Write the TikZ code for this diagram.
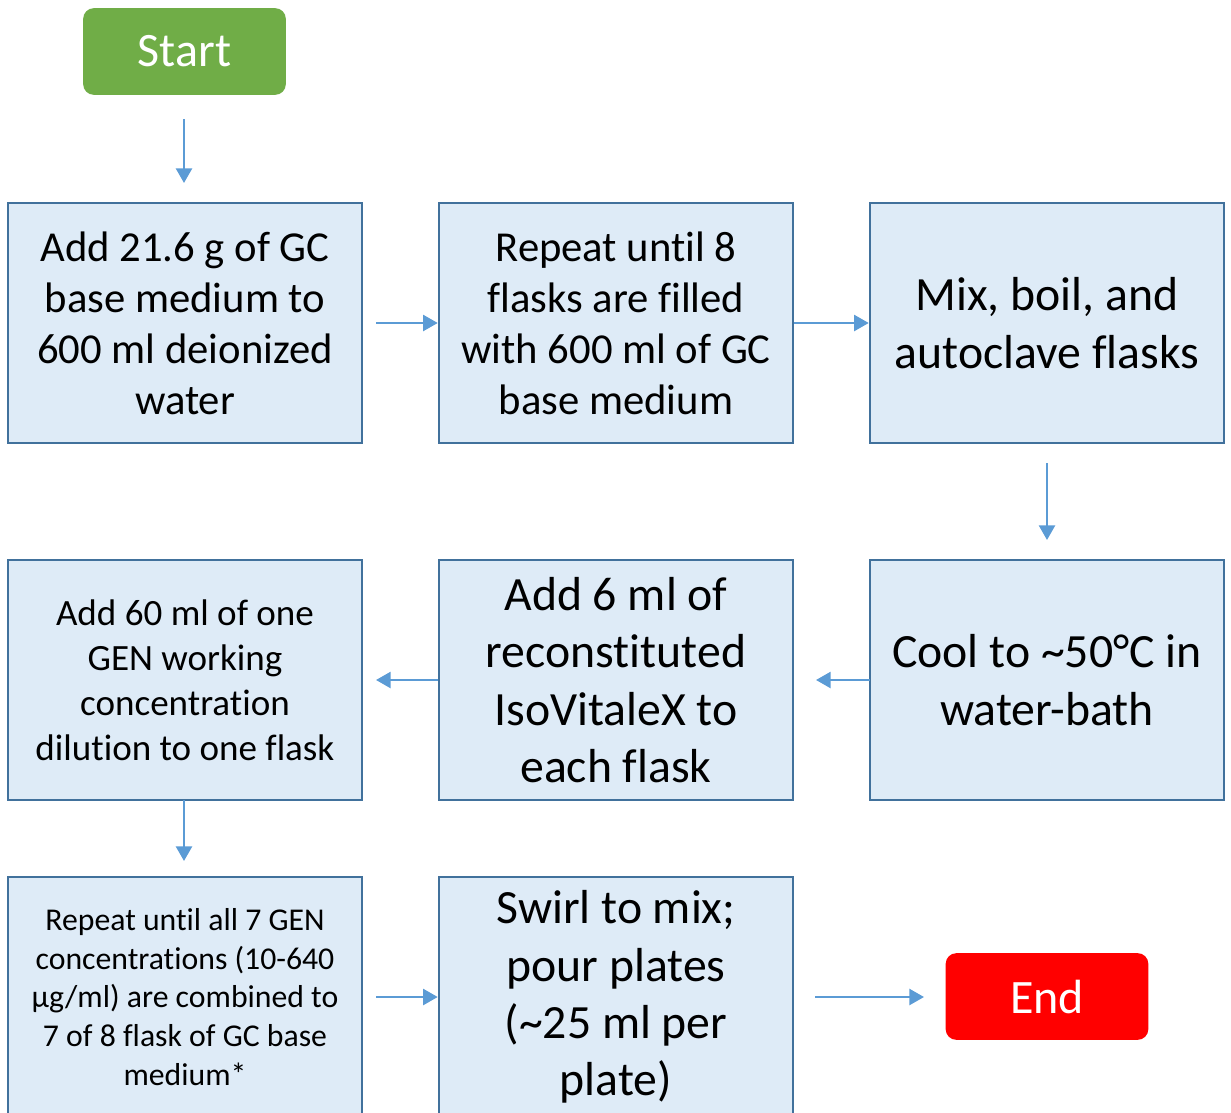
\documentclass[tikz,border=0pt]{standalone}
\usepackage{fontspec}
\setmainfont{Carlito}[Ligatures=CommonOff]
\usetikzlibrary{arrows.meta}
\definecolor{boxfill}{HTML}{DEEBF7}
\definecolor{boxline}{HTML}{41719C}
\definecolor{arrowc}{HTML}{5B9BD5}
\definecolor{startc}{HTML}{70AD47}
\definecolor{endc}{HTML}{FF0000}
\tikzset{
  stepbox/.style={draw=boxline, fill=boxfill, line width=1.9pt, minimum width=265.5pt, minimum height=180pt, inner sep=0pt, align=center, text=black},
  termbox/.style={rounded corners=8pt, minimum width=152pt, minimum height=65pt, inner sep=0pt, text=white, font=\fontsize{36}{40}\selectfont},
  flow/.style={draw=arrowc, line width=1.9pt, -{Triangle[length=11pt,width=12pt]}},
  f27/.style={font=\fontsize{32}{38.2}\selectfont},
  f30/.style={font=\fontsize{35.8}{43}\selectfont},
  f22/.style={font=\fontsize{27.8}{33.8}\selectfont},
  f19/.style={font=\fontsize{23.8}{29}\selectfont},
}
\begin{document}
\begin{tikzpicture}[x=0.75pt,y=-0.75pt]
\useasboundingbox (0,0) rectangle (1231,1113);
\clip (0,0) rectangle (1231,1113);
\node[termbox, fill=startc] (start) at (184.5,51.5) {Start};
\node[stepbox, f27] (b1) at (185,323) {Add 21.6 g of GC\\base medium to\\600 ml deionized\\water};
\node[stepbox, f27] (b2) at (616,323) {Repeat until 8\\flasks are filled\\with 600 ml of GC\\base medium};
\node[stepbox, f30] (b3) at (1047,323) {Mix, boil, and\\autoclave flasks};
\node[stepbox, f30] (b6) at (1047,680) {Cool to \textasciitilde50°C in\\water-bath};
\node[stepbox, f30] (b5) at (616,680) {Add 6 ml of\\reconstituted\\IsoVitaleX to\\each flask};
\node[stepbox, f22] (b4) at (185,680) {Add 60 ml of one\\GEN working\\concentration\\dilution to one flask};
\node[stepbox, f19] (b7) at (185,997) {Repeat until all 7 GEN\\concentrations (10-640\\µg/ml) are combined to\\7 of 8 flask of GC base\\medium*};
\node[stepbox, f30] (b8) at (616,997) {Swirl to mix;\\pour plates\\(\textasciitilde25 ml per\\plate)};
\node[termbox, fill=endc] (end) at (1047,996.5) {End};
\coordinate (a0) at (184,119);
\coordinate (a1) at (376,323);
\coordinate (a3) at (1047,463);
\coordinate (a6) at (870,680);
\coordinate (a5) at (438,680);
\coordinate (a4) at (184,800);
\coordinate (a7) at (376,997);
\coordinate (a8) at (815,997);
\coordinate (e8) at (924,997);
\draw[flow] (a0) -- (184,183);
\draw[flow] (a1) -- (b2.west);
\draw[flow] (b2.east) -- (b3.west);
\draw[flow] (a3) -- (1047,540);
\draw[flow] (a6) -- (816,680);
\draw[flow] (a5) -- (376,680);
\draw[flow] (a4) -- (184,861);
\draw[flow] (a7) -- (b8.west);
\draw[flow] (a8) -- (e8);
\end{tikzpicture}
\end{document}
